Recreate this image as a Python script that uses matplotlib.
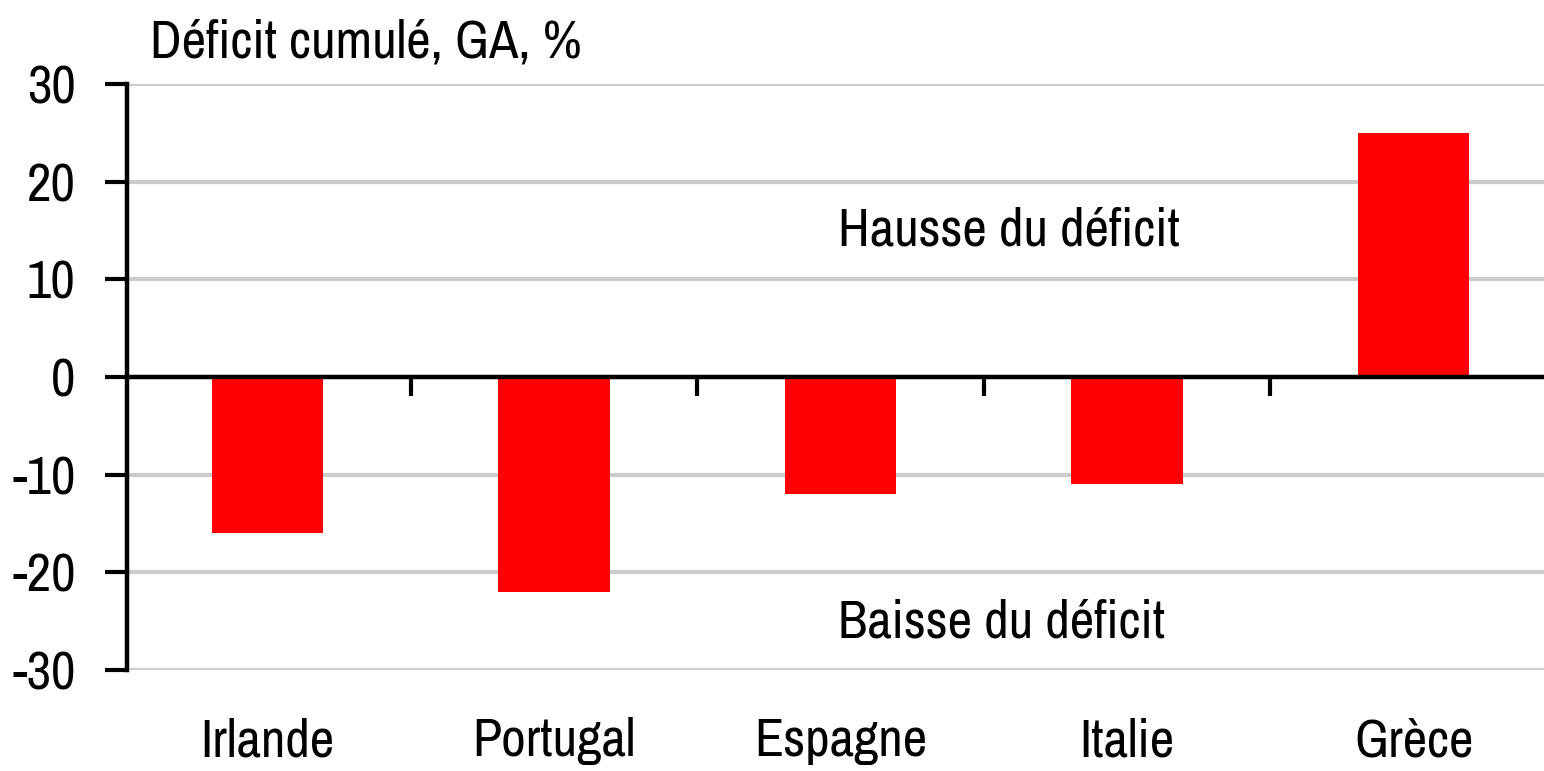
import matplotlib
matplotlib.use("Agg")
import matplotlib.pyplot as plt
from matplotlib import font_manager

# Data
pays = ["Irlande", "Portugal", "Espagne", "Italie", "Grèce"]
deficit = [-16, -22, -12, -11, 25]
yticks = [-30, -20, -10, 0, 10, 20, 30]

# narrow sans font, Arial Narrow look
names = {f.name for f in font_manager.fontManager.ttflist}
fam = "Liberation Sans"
for cand in ["Liberation Sans Narrow", "Archivo Narrow", "Roboto Condensed",
             "PT Sans Narrow", "Pragati Narrow", "Encode Sans Condensed"]:
    if cand in names:
        fam = cand
        break
plt.rcParams["font.family"] = [fam, "DejaVu Sans"]
fs = 38.5

fig = plt.figure(figsize=(15.44, 7.71), dpi=100)
ax = fig.add_axes([127 / 1544, 1 - 670 / 771, 1 - 127 / 1544, (670 - 84) / 771])

x = list(range(len(pays)))
ax.bar(x, deficit, width=0.39, color="#ff0000", zorder=3)
ax.axhline(0, color="black", linewidth=3.2, zorder=4)

ax.set_ylim(-30, 30)
ax.set_xlim(-0.49, 4.455)
ax.set_yticks(yticks)
ax.set_yticklabels([str(v) for v in yticks], fontsize=fs)
ax.yaxis.grid(True, color="#cccccc", linewidth=3, zorder=0)
ax.set_axisbelow(True)

ax.set_xticks(x)
ax.set_xticklabels(pays, fontsize=fs)
ax.tick_params(axis="x", length=0, pad=34)
ax.tick_params(axis="y", length=16, width=3, pad=21, direction="out")

for s in ["top", "right", "bottom"]:
    ax.spines[s].set_visible(False)
ax.spines["left"].set_linewidth(3.2)

# separators between countries, hanging under the zero line
sec = ax.secondary_xaxis(0.5)
sec.set_xticks([i + 0.5 for i in x[:-1]])
sec.set_xticklabels([])
sec.tick_params(axis="x", length=14, width=3, direction="in")
for s in sec.spines.values():
    s.set_visible(False)

ax.text(1.99, 13.5, "Hausse du déficit", fontsize=fs, ha="left", va="baseline")
ax.text(1.99, -26.7, "Baisse du déficit", fontsize=fs, ha="left", va="baseline")
fig.text(150 / 1544, 1 - 58 / 771, "Déficit cumulé, GA, %", fontsize=fs, ha="left", va="baseline")

fig.savefig("out.png", dpi=100)
